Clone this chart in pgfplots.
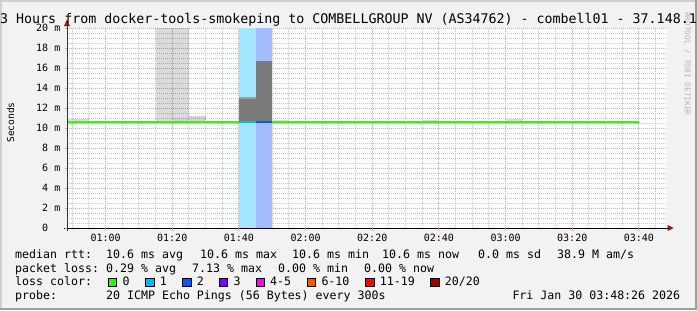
\documentclass[border=0pt]{standalone}
\usepackage{pgfplots}
\pgfplotsset{compat=1.18}
\usepackage{fontspec}
\setmainfont{DejaVu Sans Mono}
\setmonofont{DejaVu Sans Mono}
\definecolor{bgc}{HTML}{F2F2F2}
\definecolor{shadea}{HTML}{CFCFCF}
\definecolor{shadeb}{HTML}{9E9E9E}
\definecolor{gridc}{HTML}{C8C8C8}
\definecolor{mgridc}{HTML}{EE9A9A}
\definecolor{smoked}{HTML}{7A7A7A}
\definecolor{smokeedge}{HTML}{A0A0A0}
\definecolor{loss0}{HTML}{26FF00}
\definecolor{loss1}{HTML}{00B8FF}
\definecolor{loss2}{HTML}{0059FF}
\definecolor{loss3}{HTML}{7E00FF}
\definecolor{loss5}{HTML}{FF00FF}
\definecolor{loss10}{HTML}{FF5500}
\definecolor{loss19}{HTML}{FF0000}
\definecolor{loss20}{HTML}{A10000}
\definecolor{lossbgA}{HTML}{A3E5FF}
\definecolor{lossbgB}{HTML}{A3BCFF}
\definecolor{arrowc}{HTML}{8B1A1A}
\definecolor{wmark}{HTML}{B5B5B5}
\newcommand{\fT}{\fontsize{13.3bp}{15bp}\selectfont}
\newcommand{\fL}{\fontsize{11.6bp}{13bp}\selectfont}
\newcommand{\fA}{\fontsize{10bp}{12bp}\selectfont}
\newcommand{\T}[3]{\node[anchor=base west, inner sep=0pt, font=\fL] at (#1,#2) {#3};}
\newcommand{\B}[3]{\filldraw[draw=black, line width=0.8bp, fill=#3] (#1,#2) rectangle ++(8.5,8.5);}
\begin{document}
\begin{tikzpicture}[x=1bp,y=1bp]
\fill[bgc] (0,0) rectangle (697,310);
\fill[shadea] (0,307.5) rectangle (697,310);
\fill[shadea] (0,0) rectangle (2,310);
\fill[shadeb] (0,0) rectangle (697,2.5);
\fill[shadeb] (694.5,0) rectangle (697,310);
\path[use as bounding box] (0,0) rectangle (697,310);
\begin{axis}[
  at={(67bp,82bp)}, anchor=south west,
  scale only axis, width=600bp, height=200bp,
  xmin=48.43, xmax=228.43, ymin=0, ymax=20,
  axis background/.style={fill=white},
  axis line style={draw=none},
  xtick={60,80,...,220},
  xticklabels={01:00,01:20,01:40,02:00,02:20,02:40,03:00,03:20,03:40},
  minor xtick={50,55,65,70,75,85,90,95,105,110,115,125,130,135,145,150,155,165,170,175,185,190,195,205,210,215,225},
  ytick={0,2,...,20},
  yticklabels={0\hphantom{ m},2 m,4 m,6 m,8 m,10 m,12 m,14 m,16 m,18 m,20 m},
  minor ytick={0.5,1,1.5,2.5,3,3.5,4.5,5,5.5,6.5,7,7.5,8.5,9,9.5,10.5,11,11.5,12.5,13,13.5,14.5,15,15.5,16.5,17,17.5,18.5,19,19.5},
  grid=both,
  major grid style={mgridc, dash pattern=on 1bp off 1bp, line width=1bp},
  minor grid style={gridc, dash pattern=on 1bp off 1bp, line width=1bp},
  xtick pos=bottom, ytick pos=left,
  major tick length=0pt, minor tick length=0pt,
  xticklabel style={font=\fA, anchor=base, yshift=-13bp, inner sep=0pt},
  yticklabel style={font=\fA, anchor=east, inner sep=0pt, xshift=-6.5bp},
]
% light smoke (semi-transparent, grid shows through)
\addplot[draw=none, fill=black, fill opacity=0.14] coordinates {(48.43,10.5) (55,10.5) (55,10.9) (48.43,10.9)} --cycle;
\addplot[draw=none, fill=black, fill opacity=0.14] coordinates {(75,10.5) (85,10.5) (85,21) (75,21)} --cycle;
\addplot[draw=none, fill=black, fill opacity=0.04] coordinates {(80,10.5) (85,10.5) (85,11.0) (80,11.0)} --cycle;
\addplot[draw=none, fill=black, fill opacity=0.17] coordinates {(85,10.5) (90,10.5) (90,11.2) (85,11.2)} --cycle;
\addplot[draw=none, fill=black, fill opacity=0.14] coordinates {(110,10.5) (115,10.5) (115,10.8) (110,10.8)} --cycle;
\addplot[draw=none, fill=black, fill opacity=0.14] coordinates {(155,10.5) (160,10.5) (160,10.8) (155,10.8)} --cycle;
\addplot[draw=none, fill=black, fill opacity=0.14] coordinates {(180,10.5) (185,10.5) (185,10.9) (180,10.9)} --cycle;
% loss backgrounds
\addplot[draw=none, fill=lossbgA] coordinates {(100,0) (105,0) (105,20) (100,20)} --cycle;
\addplot[draw=none, fill=lossbgB] coordinates {(105,0) (110,0) (110,20) (105,20)} --cycle;
% dark smoke during loss
\addplot[draw=none, fill=smoked] coordinates {(100,10.6) (105,10.6) (105,13.1) (100,13.1)} --cycle;
\addplot[draw=none, fill=smokeedge] coordinates {(100,12.95) (105,12.95) (105,13.1) (100,13.1)} --cycle;
\addplot[draw=none, fill=smoked] coordinates {(105,10.6) (110,10.6) (110,16.7) (105,16.7)} --cycle;
% median rtt coloured by loss
\addplot[loss0, line width=2.4bp, no marks] coordinates {(48.43,10.6) (100,10.6)};
\addplot[loss1, line width=2.4bp, no marks] coordinates {(100,10.6) (105,10.6)};
\addplot[loss2, line width=2.4bp, no marks] coordinates {(105,10.6) (110,10.6)};
\addplot[loss0, line width=2.4bp, no marks] coordinates {(110,10.6) (220,10.6)};
\end{axis}
% axis lines and arrows
\draw[black, line width=1bp] (64,82) -- (668,82);
\fill[arrowc] (667.5,79) -- (673.5,82) -- (667.5,85) -- cycle;
\draw[black!80, line width=1bp] (67,79) -- (67,285);
\fill[arrowc] (64,284) -- (67,290.5) -- (70,284) -- cycle;
% ticks
\foreach \t in {60,80,...,220} {\draw[mgridc, line width=1bp] ({67+(\t-48.43)*10/3},82) -- ++(0,-3);}
\foreach \v in {0,2,...,20} {\draw[mgridc, line width=1bp] (67,{82+\v*10}) -- ++(-2.5,0);}
% watermark
\node[rotate=-90, anchor=west, inner sep=0pt, font=\fontsize{7.8bp}{9bp}\selectfont, text=wmark] at (687.3,298) {RRDTOOL / TOBI OETIKER};
% title
\node[anchor=base west, inner sep=0pt, font=\fT] at (0,287) {3 Hours from docker-tools-smokeping to COMBELLGROUP NV (AS34762) - combell01 - 37.148.1};
% y label
\node[rotate=90, inner sep=0pt, font=\fontsize{9.6bp}{11bp}\selectfont] at (10.5,187.5) {Seconds};
% legend lines
\T{15}{51.7}{median rtt:}
\T{106}{51.7}{10.6 ms avg}
\T{200}{51.7}{10.6 ms max}
\T{292}{51.7}{10.6 ms min}
\T{382}{51.7}{10.6 ms now}
\T{478}{51.7}{0.0 ms sd}
\T{557}{51.7}{38.9 M am/s}
\T{15}{37.9}{packet loss:}
\T{106}{37.9}{0.29 \% avg}
\T{192}{37.9}{7.13 \% max}
\T{278}{37.9}{0.00 \% min}
\T{364}{37.9}{0.00 \% now}
\T{15}{24.2}{loss color:}
\B{108.3}{23.5}{loss0}\T{122.3}{24.2}{0}
\B{145.7}{23.5}{loss1}\T{159.7}{24.2}{1}
\B{182.7}{23.5}{loss2}\T{196.7}{24.2}{2}
\B{219.3}{23.5}{loss3}\T{233.3}{24.2}{3}
\B{256}{23.5}{loss5}\T{270}{24.2}{4-5}
\B{307.3}{23.5}{loss10}\T{321.3}{24.2}{6-10}
\B{365.7}{23.5}{loss19}\T{379.7}{24.2}{11-19}
\B{430.7}{23.5}{loss20}\T{444.7}{24.2}{20/20}
\T{15}{10.5}{probe:}
\T{106}{10.5}{20 ICMP Echo Pings (56 Bytes) every 300s}
\T{512.3}{10.5}{Fri Jan 30 03:48:26 2026}
\end{tikzpicture}
\end{document}
